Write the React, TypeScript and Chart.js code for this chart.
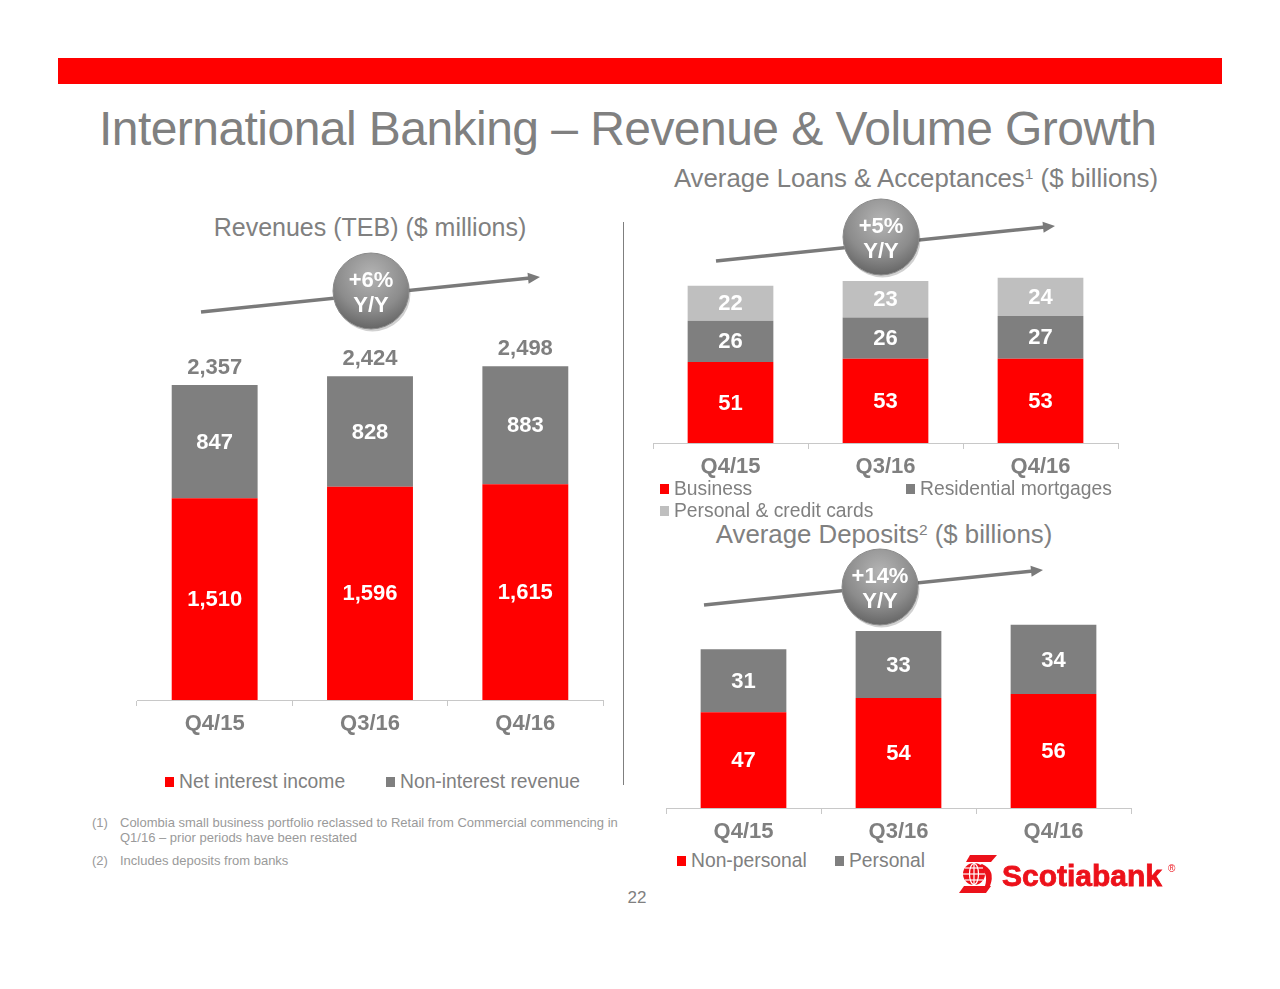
import React, { useEffect, useRef } from "react";
import { Chart, registerables } from "chart.js";

Chart.register(...registerables);

const FONT = '"Liberation Sans", Arial, Helvetica, sans-serif';

// ---------- data ----------
const quarters = ["Q4/15", "Q3/16", "Q4/16"];

const netInterestIncome = [1510, 1596, 1615];
const nonInterestRevenue = [847, 828, 883];

const loansBusiness = [51, 53, 53];
const loansResidentialMortgages = [26, 26, 27];
const loansPersonalCredit = [22, 23, 24];

const depositsNonPersonal = [47, 54, 56];
const depositsPersonal = [31, 33, 34];

const growthRevenue = ["+6%", "Y/Y"];
const growthLoans = ["+5%", "Y/Y"];
const growthDeposits = ["+14%", "Y/Y"];

// ---------- styles ----------
const RED = "#ff0000";
const DARK = "#7f7f7f";
const LIGHT = "#bfbfbf";
const TEXT_GRAY = "#808080";
const AXIS_GRAY = "#c8c8c8";
const AXIS_H = 40;

type Series = { label: string; data: number[]; color: string };
type Area = { left: number; right: number; axisY: number; top: number; ppu: number };

const fmtThousands = (v: number) => v.toLocaleString("en-US");
const fmtPlain = (v: number) => String(v);

function StackedBars(props: {
  id: string;
  series: Series[];
  area: Area;
  totals?: boolean;
  fmt: (v: number) => string;
}) {
  const { id, series, area, totals, fmt } = props;
  const ref = useRef<HTMLCanvasElement>(null);
  const width = area.right - area.left + 2;
  const plotH = area.axisY - area.top;
  const height = plotH + AXIS_H;

  useEffect(() => {
    const max = plotH / area.ppu;
    const labelPlugin = {
      id: "valueLabels_" + id,
      afterDatasetsDraw(chart: any) {
        const ctx = chart.ctx;
        ctx.save();
        ctx.font = `bold 22px ${FONT}`;
        ctx.textAlign = "center";
        ctx.textBaseline = "middle";
        chart.data.datasets.forEach((ds: any, i: number) => {
          const meta = chart.getDatasetMeta(i);
          meta.data.forEach((bar: any, j: number) => {
            const p = bar.getProps(["x", "y", "base"], true);
            ctx.fillStyle = "#ffffff";
            ctx.fillText(fmt(ds.data[j]), p.x, (p.y + p.base) / 2 + 1);
          });
        });
        if (totals) {
          const lastIdx = chart.data.datasets.length - 1;
          const meta = chart.getDatasetMeta(lastIdx);
          meta.data.forEach((bar: any, j: number) => {
            const total = chart.data.datasets.reduce((s: number, d: any) => s + d.data[j], 0);
            const p = bar.getProps(["x", "y"], true);
            ctx.fillStyle = DARK;
            ctx.fillText(fmt(total), p.x, p.y - 17);
          });
        }
        ctx.restore();
      },
    };

    const chart = new Chart(ref.current as HTMLCanvasElement, {
      type: "bar",
      data: {
        labels: quarters,
        datasets: series.map((s) => ({
          label: s.label,
          data: s.data,
          backgroundColor: s.color,
          borderWidth: 0,
          barPercentage: 0.553,
          categoryPercentage: 1,
        })),
      },
      options: {
        responsive: false,
        animation: false,
        devicePixelRatio: 1,
        layout: { padding: { left: 1, right: 1, top: 0, bottom: 0 } },
        plugins: { legend: { display: false }, tooltip: { enabled: false } },
        scales: {
          x: {
            stacked: true,
            grid: {
              offset: true,
              drawOnChartArea: false,
              drawTicks: true,
              tickLength: 6,
              color: AXIS_GRAY,
              lineWidth: 1,
            },
            border: { display: true, color: AXIS_GRAY, width: 1 },
            ticks: {
              color: DARK,
              font: { family: FONT, size: 22, weight: "bold" },
              padding: 5,
              maxRotation: 0,
            },
            afterFit: (s: any) => {
              s.height = AXIS_H;
            },
          },
          y: { stacked: true, display: false, min: 0, max },
        },
      } as any,
      plugins: [labelPlugin],
    });
    return () => chart.destroy();
  }, []);

  return (
    <canvas
      ref={ref}
      width={width}
      height={height}
      style={{ position: "absolute", left: area.left - 1, top: area.top, width, height }}
    />
  );
}

function Text(props: {
  x: number;
  y: number;
  size: number;
  children: any;
  align?: "left" | "center";
  color?: string;
  weight?: string;
  ls?: number;
}) {
  const { x, y, size, children, align = "left", color = TEXT_GRAY, weight = "normal", ls = 0 } = props;
  return (
    <div
      style={{
        position: "absolute",
        left: x,
        top: y - size / 2,
        fontSize: size,
        lineHeight: 1,
        fontFamily: FONT,
        color,
        fontWeight: weight as any,
        whiteSpace: "nowrap",
        letterSpacing: ls,
        transform: align === "center" ? "translateX(-50%)" : undefined,
      }}
    >
      {children}
    </div>
  );
}

function LegendItem(props: { x: number; y: number; color: string; label: string; size?: number }) {
  const { x, y, color, label, size = 19.3 } = props;
  return (
    <>
      <div style={{ position: "absolute", left: x, top: y - 5, width: 9, height: 10, background: color }} />
      <Text x={x + 14} y={y} size={size}>
        {label}
      </Text>
    </>
  );
}

function Arrow(props: { x1: number; y1: number; x2: number; y2: number }) {
  const { x1, y1, x2, y2 } = props;
  const dx = x2 - x1;
  const dy = y2 - y1;
  const len = Math.hypot(dx, dy);
  const ux = dx / len;
  const uy = dy / len;
  const hl = 12;
  const hw = 5.5;
  const bx = x2 - ux * hl;
  const by = y2 - uy * hl;
  const pts = `${x2},${y2} ${bx - uy * hw},${by + ux * hw} ${bx + uy * hw},${by - ux * hw}`;
  return (
    <g>
      <line x1={x1} y1={y1} x2={bx + ux * 2} y2={by + uy * 2} stroke="#7a7a7a" strokeWidth={3.5} />
      <polygon points={pts} fill="#7a7a7a" />
    </g>
  );
}

function Bubble(props: { cx: number; cy: number; lines: string[] }) {
  const { cx, cy, lines } = props;
  return (
    <g>
      <circle cx={cx + 1.5} cy={cy + 2.5} r={38} fill="#000" opacity={0.18} />
      <circle cx={cx} cy={cy} r={38} fill="url(#bubbleGrad)" stroke="#8a8a8a" strokeWidth={1} />
      <text
        x={cx}
        y={cy - 12}
        textAnchor="middle"
        dominantBaseline="central"
        fill="#ffffff"
        fontFamily={FONT}
        fontWeight="bold"
        fontSize={22}
      >
        {lines[0]}
      </text>
      <text
        x={cx}
        y={cy + 13}
        textAnchor="middle"
        dominantBaseline="central"
        fill="#ffffff"
        fontFamily={FONT}
        fontWeight="bold"
        fontSize={22}
      >
        {lines[1]}
      </text>
    </g>
  );
}

export default function App() {
  const revenueSeries: Series[] = [
    { label: "Net interest income", data: netInterestIncome, color: RED },
    { label: "Non-interest revenue", data: nonInterestRevenue, color: DARK },
  ];
  const loanSeries: Series[] = [
    { label: "Business", data: loansBusiness, color: RED },
    { label: "Residential mortgages", data: loansResidentialMortgages, color: DARK },
    { label: "Personal & credit cards", data: loansPersonalCredit, color: LIGHT },
  ];
  const depositSeries: Series[] = [
    { label: "Non-personal", data: depositsNonPersonal, color: RED },
    { label: "Personal", data: depositsPersonal, color: DARK },
  ];

  return (
    <div
      style={{
        position: "relative",
        width: 1280,
        height: 989,
        margin: -8,
        background: "#ffffff",
        overflow: "hidden",
        fontFamily: FONT,
      }}
    >
      {/* red banner */}
      <div style={{ position: "absolute", left: 58, top: 58, width: 1164, height: 26, background: RED }} />

      {/* main title */}
      <Text x={99} y={129} size={48} ls={-0.55} color={TEXT_GRAY}>
        International Banking – Revenue &amp; Volume Growth
      </Text>

      {/* chart titles */}
      <Text x={370} y={227} size={25} align="center">
        Revenues (TEB) ($ millions)
      </Text>
      <Text x={916} y={179} size={25.8} align="center">
        Average Loans &amp; Acceptances<sup style={{ fontSize: "0.6em", verticalAlign: "0.55em", lineHeight: 0 }}>1</sup> ($ billions)
      </Text>
      <Text x={884} y={535} size={25.8} align="center">
        Average Deposits<sup style={{ fontSize: "0.6em", verticalAlign: "0.55em", lineHeight: 0 }}>2</sup> ($ billions)
      </Text>

      {/* divider */}
      <div style={{ position: "absolute", left: 623, top: 222, width: 1, height: 563, background: "#7f7f7f" }} />

      {/* charts */}
      <StackedBars
        id="rev"
        series={revenueSeries}
        area={{ left: 137, right: 603, axisY: 700, top: 300, ppu: 0.1336 }}
        totals
        fmt={fmtThousands}
      />
      <StackedBars
        id="loans"
        series={loanSeries}
        area={{ left: 653, right: 1118, axisY: 443, top: 262, ppu: 1.588 }}
        fmt={fmtPlain}
      />
      <StackedBars
        id="dep"
        series={depositSeries}
        area={{ left: 666, right: 1131, axisY: 808, top: 615, ppu: 2.035 }}
        fmt={fmtPlain}
      />

      {/* legends */}
      <LegendItem x={165} y={782} color={RED} label="Net interest income" />
      <LegendItem x={386} y={782} color={DARK} label="Non-interest revenue" />

      <LegendItem x={660} y={489} color={RED} label="Business" />
      <LegendItem x={906} y={489} color={DARK} label="Residential mortgages" />
      <LegendItem x={660} y={511} color={LIGHT} label="Personal & credit cards" />

      <LegendItem x={677} y={861} color={RED} label="Non-personal" />
      <LegendItem x={835} y={861} color={DARK} label="Personal" />

      {/* footnotes */}
      <Text x={92} y={822} size={13} color="#9a9a9a">(1)</Text>
      <Text x={120} y={822} size={13} color="#9a9a9a">
        Colombia small business portfolio reclassed to Retail from Commercial commencing in
      </Text>
      <Text x={120} y={837} size={13} color="#9a9a9a">
        Q1/16 – prior periods have been restated
      </Text>
      <Text x={92} y={860} size={13} color="#9a9a9a">(2)</Text>
      <Text x={120} y={860} size={13} color="#9a9a9a">
        Includes deposits from banks
      </Text>

      {/* page number */}
      <Text x={637} y={897} size={17} align="center">
        22
      </Text>

      {/* overlay: arrows, bubbles, logo */}
      <svg
        width={1280}
        height={989}
        style={{ position: "absolute", left: 0, top: 0, pointerEvents: "none" }}
      >
        <defs>
          <radialGradient id="bubbleGrad" cx="50%" cy="30%" r="75%">
            <stop offset="0%" stopColor="#b4b4b4" />
            <stop offset="60%" stopColor="#8c8c8c" />
            <stop offset="100%" stopColor="#5e5e5e" />
          </radialGradient>
        </defs>

        <Arrow x1={201} y1={312} x2={540} y2={277} />
        <Bubble cx={371} cy={291} lines={growthRevenue} />

        <Arrow x1={716} y1={261} x2={1055} y2={226} />
        <Bubble cx={881} cy={237} lines={growthLoans} />

        <Arrow x1={704} y1={605} x2={1043} y2={570} />
        <Bubble cx={880} cy={587} lines={growthDeposits} />

        {/* Scotiabank logo */}
        <g fill="#ec111a">
          <path d="M970 855 L997 855 L991 862 L966 862 Z" />
          <circle cx={974} cy={874} r={11} />
          <path d="M982 864 Q996 870 990 886 L985 886 Q989 872 978 866 Z" />
          <path d="M959 893 L986 893 L991 886 L964 886 Z" />
        </g>
        <g stroke="#ffffff" strokeWidth={1.2} fill="none">
          <ellipse cx={974} cy={874} rx={4.5} ry={10.5} />
          <line x1={963} y1={874} x2={985} y2={874} />
          <line x1={965} y1={868} x2={983} y2={868} />
          <line x1={965} y1={880} x2={983} y2={880} />
          <line x1={974} y1={863} x2={974} y2={885} />
        </g>
        <text
          x={1002}
          y={886}
          fill="#ec111a"
          stroke="#ec111a"
          strokeWidth={0.8}
          fontFamily={FONT}
          fontWeight="bold"
          fontSize={30}
        >
          Scotiabank
        </text>
        <text x={1168} y={872} fill="#ec111a" fontFamily={FONT} fontSize={10}>
          ®
        </text>
      </svg>
    </div>
  );
}
